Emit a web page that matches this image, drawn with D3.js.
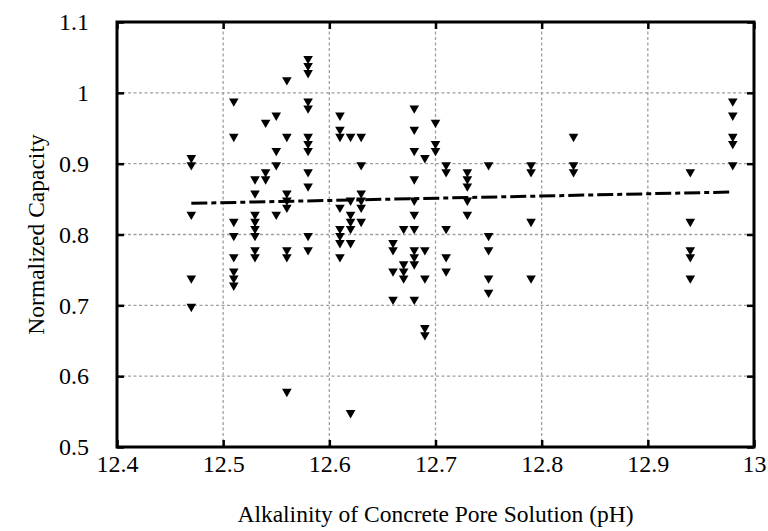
<!DOCTYPE html>
<html lang="en">
  <head>
    <meta charset="utf-8" />
    <script src="https://cdn.jsdelivr.net/npm/d3@7/dist/d3.min.js"></script>
    <title>Normalized Capacity vs pH</title>
    <style>
      body { margin: 0; background: #fff; }
      text { font-family: "Liberation Serif", "Times New Roman", serif; fill: #000; }
      .grid line { stroke: #a0a0a0; stroke-width: 1.3; stroke-dasharray: 3,2.5; }
    </style>
  </head>
  <body>
    <div id="container"></div>

    <script>
      // pH of each column and the capacities
      const ph = [12.47, 12.51, 12.53, 12.54, 12.55, 12.56, 12.58, 12.61, 12.62, 12.63, 12.66,
                  12.67, 12.68, 12.69, 12.70, 12.71, 12.73, 12.75, 12.79, 12.83, 12.94, 12.98];
      const capacity = [
        [0.91, 0.90, 0.83, 0.74, 0.70],
        [0.99, 0.94, 0.82, 0.80, 0.77, 0.75, 0.74, 0.73],
        [0.88, 0.86, 0.83, 0.82, 0.81, 0.80, 0.78, 0.77],
        [0.96, 0.89, 0.88],
        [0.97, 0.92, 0.90, 0.83],
        [1.02, 0.94, 0.86, 0.85, 0.84, 0.78, 0.77, 0.58],
        [1.05, 1.04, 1.03, 0.99, 0.98, 0.94, 0.93, 0.92, 0.89, 0.87, 0.80, 0.78],
        [0.97, 0.95, 0.94, 0.84, 0.81, 0.80, 0.79, 0.77],
        [0.94, 0.85, 0.83, 0.82, 0.81, 0.79, 0.55],
        [0.94, 0.90, 0.86, 0.85, 0.84, 0.82],
        [0.79, 0.78, 0.75, 0.71],
        [0.81, 0.76, 0.75, 0.74],
        [0.98, 0.95, 0.92, 0.88, 0.85, 0.83, 0.81, 0.78, 0.77, 0.76, 0.71],
        [0.91, 0.78, 0.74, 0.67, 0.66],
        [0.96, 0.93, 0.92],
        [0.90, 0.89, 0.81, 0.77, 0.75],
        [0.89, 0.88, 0.87, 0.85, 0.83],
        [0.90, 0.80, 0.78, 0.74, 0.72],
        [0.90, 0.89, 0.82, 0.74],
        [0.94, 0.90, 0.89],
        [0.89, 0.82, 0.78, 0.77, 0.74],
        [0.99, 0.97, 0.94, 0.93, 0.90]
      ];
      // trend line end points
      const trendPh = [12.47, 12.98];
      const trendCap = [0.844, 0.860];

      const xTicks = [12.4, 12.5, 12.6, 12.7, 12.8, 12.9, 13];
      const yTicks = [0.5, 0.6, 0.7, 0.8, 0.9, 1, 1.1];

      const width = 768, height = 531;
      const margin = { top: 22, right: 14, bottom: 84, left: 117 };
      const serif = '"Liberation Serif", "Times New Roman", serif';

      const svg = d3.select("#container").append("svg").attr("width", width).attr("height", height);

      const x = d3.scaleLinear().domain([12.4, 13]).range([margin.left, width - margin.right]);
      const y = d3.scaleLinear().domain([0.5, 1.1]).range([height - margin.bottom, margin.top]);

      // grid
      const grid = svg.append("g").attr("class", "grid");
      grid.selectAll(".gx").data(xTicks.slice(1, -1)).enter().append("line")
        .attr("x1", (d) => x(d)).attr("x2", (d) => x(d))
        .attr("y1", y(0.5)).attr("y2", y(1.1));
      grid.selectAll(".gy").data(yTicks.slice(1, -1)).enter().append("line")
        .attr("y1", (d) => y(d)).attr("y2", (d) => y(d))
        .attr("x1", x(12.4)).attr("x2", x(13));

      // trend line
      const line = d3.line().x((d) => x(d[0])).y((d) => y(d[1]));
      svg.append("path")
        .datum(trendPh.map((p, i) => [p, trendCap[i]]))
        .attr("d", line)
        .attr("fill", "none")
        .attr("stroke", "#000")
        .attr("stroke-width", 3)
        .attr("stroke-dasharray", "16,4,5,4");

      // points
      const pts = [];
      ph.forEach((p, i) => capacity[i].forEach((c) => pts.push([p, c])));
      const tri = d3.symbol().type(d3.symbolTriangle).size(40);
      svg.append("g").selectAll("path").data(pts).enter().append("path")
        .attr("d", tri)
        .attr("fill", "#000")
        .attr("transform", (d) => `translate(${x(d[0])},${y(d[1]) + 1.3}) rotate(180)`);

      // axes with inward ticks, mirrored top and right
      const tickLen = 7;
      const fmt = (d) => d3.format("~g")(d);
      const ax = svg.append("g").attr("transform", `translate(0,${y(0.5)})`)
        .call(d3.axisBottom(x).tickValues(xTicks).tickSize(-tickLen).tickPadding(8).tickFormat(fmt));
      const axTop = svg.append("g").attr("transform", `translate(0,${y(1.1)})`)
        .call(d3.axisTop(x).tickValues(xTicks).tickSize(-tickLen).tickFormat(""));
      const ay = svg.append("g").attr("transform", `translate(${x(12.4)},0)`)
        .call(d3.axisLeft(y).tickValues(yTicks).tickSize(-tickLen).tickPadding(28).tickFormat(fmt));
      const ayR = svg.append("g").attr("transform", `translate(${x(13)},0)`)
        .call(d3.axisRight(y).tickValues(yTicks).tickSize(-tickLen).tickFormat(""));

      [ax, axTop, ay, ayR].forEach((g) => {
        g.attr("font-family", serif);
        g.select(".domain").remove();
        g.selectAll(".tick line").attr("stroke", "#000").attr("stroke-width", 2.5);
        g.selectAll("text").style("font-size", "24px").style("font-family", serif).attr("fill", "#000");
      });

      // frame
      svg.append("rect")
        .attr("x", x(12.4)).attr("y", y(1.1))
        .attr("width", x(13) - x(12.4)).attr("height", y(0.5) - y(1.1))
        .attr("fill", "none").attr("stroke", "#000").attr("stroke-width", 3);

      // titles
      svg.append("text")
        .attr("x", (x(12.4) + x(13)) / 2).attr("y", 522)
        .attr("text-anchor", "middle").style("font-size", "23.5px")
        .text("Alkalinity of Concrete Pore Solution (pH)");
      svg.append("text")
        .attr("transform", `translate(44,${(y(0.5) + y(1.1)) / 2}) rotate(-90)`)
        .attr("text-anchor", "middle").style("font-size", "23.5px")
        .text("Normalized Capacity");
    </script>
  </body>
</html>
